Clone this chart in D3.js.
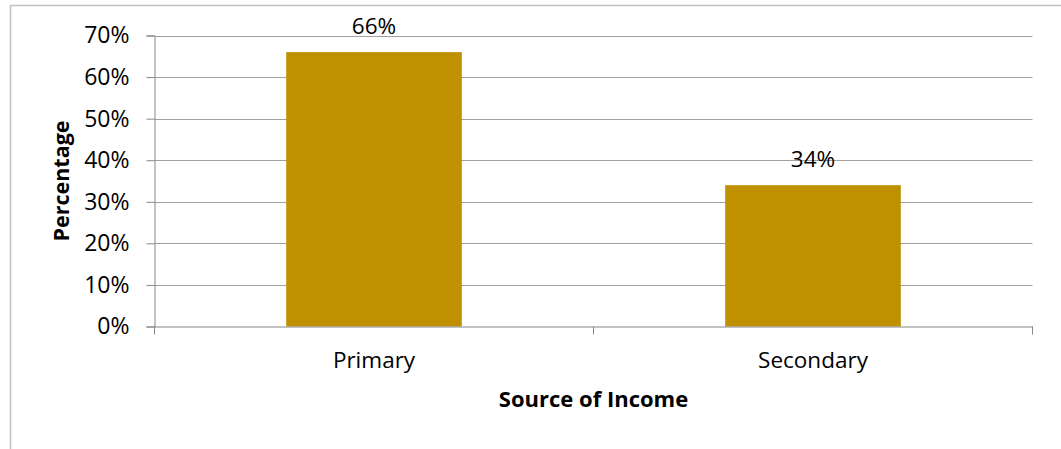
<!DOCTYPE html>
<html>
<head>
<meta charset="utf-8">
<script src="https://cdn.jsdelivr.net/npm/d3@7"></script>
<style>
  html, body { margin: 0; padding: 0; background: #fff; }
  svg { display: block; }
  text { font-family: "Open Sans", "Noto Sans", sans-serif; fill: #000; }
</style>
</head>
<body>
<svg id="chart" width="1061" height="449"></svg>
<script>
const categories = ["Primary", "Secondary"];
const values = [66, 34];
const valueLabels = ["66%", "34%"];
const yTicks = [0, 10, 20, 30, 40, 50, 60, 70];
const yTitle = "Percentage";
const xTitle = "Source of Income";

const svg = d3.select("#chart");
const plot = { left: 154.5, right: 1032.5, top: 35.5, bottom: 326.5 };

// outer chart border
svg.append("rect")
  .attr("x", 10.5).attr("y", 5.5)
  .attr("width", 1200).attr("height", 600)
  .attr("fill", "none").attr("stroke", "#bfbfbf").attr("stroke-width", 1.5);

const x = d3.scaleBand().domain(categories)
  .range([plot.left, plot.right]).paddingInner(0.6).paddingOuter(0.3);
const xOuter = d3.scaleBand().domain(categories).range([plot.left, plot.right]);
const y = d3.scaleLinear().domain([0, 70]).range([plot.bottom, plot.top]);

// gridlines
svg.append("g").selectAll("line").data(yTicks.filter(d => d > 0)).join("line")
  .attr("x1", plot.left).attr("x2", plot.right)
  .attr("y1", d => Math.round(y(d)) + 0.5).attr("y2", d => Math.round(y(d)) + 0.5)
  .attr("stroke", "#a0a0a0").attr("stroke-width", 1);

// bars
svg.append("g").selectAll("rect").data(values).join("rect")
  .attr("x", (d, i) => x(categories[i]))
  .attr("width", x.bandwidth())
  .attr("y", d => y(d))
  .attr("height", d => y(0) - y(d))
  .attr("fill", "#bf9000");

// y axis
const yAxis = d3.axisLeft(y).tickValues(yTicks).tickSize(8).tickPadding(17)
  .tickFormat(d => d + "%");
const gy = svg.append("g").attr("transform", `translate(${plot.left},0)`).call(yAxis);
gy.select(".domain").attr("stroke", "#868686");
gy.selectAll(".tick line").attr("stroke", "#868686");
gy.selectAll(".tick text").style("font-size", "23px").attr("fill", "#000");

// x axis
const xAxis = d3.axisBottom(xOuter).tickSize(0).tickPadding(0).tickFormat("");
const gx = svg.append("g").attr("transform", `translate(0,${plot.bottom})`).call(xAxis);
gx.select(".domain").attr("stroke", "#868686");
gx.selectAll(".tick").remove();
const bounds = [plot.left].concat(categories.map(c => xOuter(c) + xOuter.bandwidth()));
gx.selectAll("line.sep").data(bounds).join("line").attr("class", "sep")
  .attr("x1", d => d).attr("x2", d => d).attr("y1", 0).attr("y2", 8)
  .attr("stroke", "#868686");

// category labels
svg.append("g").selectAll("text").data(categories).join("text")
  .attr("x", d => xOuter(d) + xOuter.bandwidth() / 2)
  .attr("y", 368)
  .attr("text-anchor", "middle")
  .style("font-size", "22.5px")
  .text(d => d);

// value labels
svg.append("g").selectAll("text").data(values).join("text")
  .attr("x", (d, i) => x(categories[i]) + x.bandwidth() / 2)
  .attr("y", d => y(d) - 18)
  .attr("text-anchor", "middle")
  .style("font-size", "22.5px")
  .text((d, i) => valueLabels[i]);

// axis titles
svg.append("text")
  .attr("x", (plot.left + plot.right) / 2).attr("y", 407)
  .attr("text-anchor", "middle")
  .style("font-size", "22px").style("font-weight", "bold")
  .text(xTitle);

svg.append("text")
  .attr("transform", `translate(69,${(plot.top + plot.bottom) / 2}) rotate(-90)`)
  .attr("text-anchor", "middle")
  .style("font-size", "21.5px").style("font-weight", "bold")
  .text(yTitle);
</script>
</body>
</html>
